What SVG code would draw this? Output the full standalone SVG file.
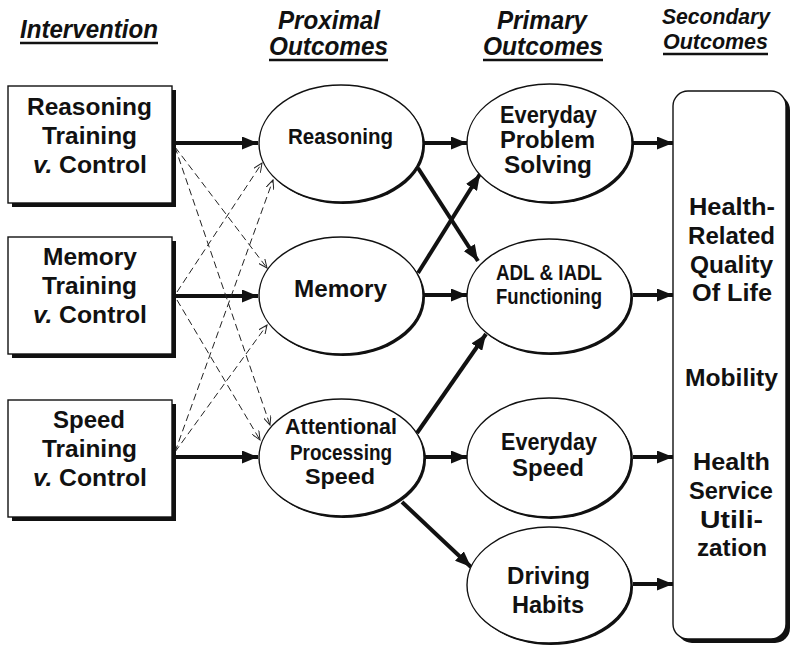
<svg xmlns="http://www.w3.org/2000/svg" width="800" height="656" viewBox="0 0 800 656">
<defs>
<style>
text{font-family:"Liberation Sans",Arial,sans-serif;font-weight:bold;fill:#111}
.hd{font-style:italic;font-size:25px}
.bx{font-size:23px}
.el{font-size:23px}
.it{font-style:italic}
.ul{stroke:#111;stroke-width:2.5}
.shadow{fill:#111}
.face{fill:#fff;stroke:#111;stroke-width:1.4}
.thick{stroke:#111;stroke-width:4;fill:none}
.dash{stroke:#222;stroke-width:1;fill:none;stroke-dasharray:7 4}
</style>
<marker id="ah" markerUnits="userSpaceOnUse" markerWidth="17" markerHeight="13" refX="16" refY="6.5" orient="auto">
<path d="M0,0 L16,6.5 L0,13 z" fill="#111"/>
</marker>
<marker id="av" markerUnits="userSpaceOnUse" markerWidth="10" markerHeight="8" refX="9" refY="4" orient="auto">
<path d="M0,0 L9,4 L0,8" fill="none" stroke="#222" stroke-width="1"/>
</marker>
</defs>
<rect width="800" height="656" fill="#fff"/>

<g id="headers">
<text class="hd" x="20" y="38" textLength="138" lengthAdjust="spacingAndGlyphs">Intervention</text>
<line class="ul" x1="20" y1="43" x2="158" y2="43"/>
<text class="hd" x="278" y="29" textLength="102" lengthAdjust="spacingAndGlyphs">Proximal</text>
<text class="hd" x="269" y="55" textLength="119" lengthAdjust="spacingAndGlyphs">Outcomes</text>
<line class="ul" x1="269" y1="60" x2="388" y2="60"/>
<text class="hd" x="497" y="29" textLength="90" lengthAdjust="spacingAndGlyphs">Primary</text>
<text class="hd" x="483" y="55" textLength="120" lengthAdjust="spacingAndGlyphs">Outcomes</text>
<line class="ul" x1="483" y1="60" x2="603" y2="60"/>
<text class="hd" x="662" y="24" textLength="108" lengthAdjust="spacingAndGlyphs" style="font-size:22px">Secondary</text>
<text class="hd" x="663" y="49" textLength="105" lengthAdjust="spacingAndGlyphs" style="font-size:22px">Outcomes</text>
<line class="ul" x1="663" y1="54" x2="768" y2="54"/>
</g>

<g id="connectors">
<line class="thick" x1="172" y1="143" x2="258" y2="143" marker-end="url(#ah)"/>
<line class="thick" x1="172" y1="296" x2="258" y2="296" marker-end="url(#ah)"/>
<line class="thick" x1="172" y1="457" x2="258" y2="457" marker-end="url(#ah)"/>
<line class="dash" x1="175" y1="147" x2="267" y2="268" marker-end="url(#av)"/>
<line class="dash" x1="175" y1="147" x2="270" y2="425" marker-end="url(#av)"/>
<line class="dash" x1="177" y1="292" x2="262" y2="163" marker-end="url(#av)"/>
<line class="dash" x1="177" y1="300" x2="260" y2="440" marker-end="url(#av)"/>
<line class="dash" x1="175" y1="452" x2="273" y2="180" marker-end="url(#av)"/>
<line class="dash" x1="175" y1="452" x2="267" y2="325" marker-end="url(#av)"/>
<line class="thick" x1="424" y1="143" x2="467" y2="143" marker-end="url(#ah)"/>
<line class="thick" x1="418" y1="168" x2="478" y2="261" marker-end="url(#ah)"/>
<line class="thick" x1="418" y1="273" x2="480" y2="174" marker-end="url(#ah)"/>
<line class="thick" x1="424" y1="295" x2="467" y2="295" marker-end="url(#ah)"/>
<line class="thick" x1="417" y1="433" x2="486" y2="334" marker-end="url(#ah)"/>
<line class="thick" x1="425" y1="457" x2="467" y2="457" marker-end="url(#ah)"/>
<line class="thick" x1="402" y1="502" x2="471" y2="567" marker-end="url(#ah)"/>
<line class="thick" x1="633" y1="143" x2="673" y2="143" marker-end="url(#ah)"/>
<line class="thick" x1="633" y1="295" x2="673" y2="295" marker-end="url(#ah)"/>
<line class="thick" x1="633" y1="457" x2="673" y2="457" marker-end="url(#ah)"/>
<line class="thick" x1="633" y1="584" x2="673" y2="584" marker-end="url(#ah)"/>
</g>

<g id="box-reasoning">
<rect class="shadow" x="12" y="90" width="164" height="117"/>
<rect class="face" x="8" y="86" width="164" height="117"/>
<text class="bx" x="27" y="115" textLength="125" lengthAdjust="spacingAndGlyphs">Reasoning</text>
<text class="bx" x="42" y="144" textLength="95" lengthAdjust="spacingAndGlyphs">Training</text>
<text class="bx" x="33" y="173" textLength="114" lengthAdjust="spacingAndGlyphs"><tspan class="it">v.</tspan> Control</text>
</g>
<g id="box-memory">
<rect class="shadow" x="12" y="241" width="164" height="117"/>
<rect class="face" x="8" y="237" width="164" height="117"/>
<text class="bx" x="43" y="265" textLength="94" lengthAdjust="spacingAndGlyphs">Memory</text>
<text class="bx" x="42" y="294" textLength="95" lengthAdjust="spacingAndGlyphs">Training</text>
<text class="bx" x="33" y="323" textLength="114" lengthAdjust="spacingAndGlyphs"><tspan class="it">v.</tspan> Control</text>
</g>
<g id="box-speed">
<rect class="shadow" x="12" y="404" width="164" height="117"/>
<rect class="face" x="8" y="400" width="164" height="117"/>
<text class="bx" x="53" y="428" textLength="72" lengthAdjust="spacingAndGlyphs">Speed</text>
<text class="bx" x="42" y="457" textLength="95" lengthAdjust="spacingAndGlyphs">Training</text>
<text class="bx" x="33" y="486" textLength="114" lengthAdjust="spacingAndGlyphs"><tspan class="it">v.</tspan> Control</text>
</g>

<g id="prox-reasoning">
<ellipse class="shadow" cx="343" cy="145.5" rx="82" ry="58.5"/>
<ellipse class="face" cx="341" cy="143.5" rx="82" ry="58.5"/>
<text class="el" x="288" y="144" textLength="105" lengthAdjust="spacingAndGlyphs" style="font-size:22px">Reasoning</text>
</g>
<g id="prox-memory">
<ellipse class="shadow" cx="343" cy="297.5" rx="82" ry="58.5"/>
<ellipse class="face" cx="341" cy="295.5" rx="82" ry="58.5"/>
<text class="el" x="294" y="297" textLength="93" lengthAdjust="spacingAndGlyphs" style="font-size:24px">Memory</text>
</g>
<g id="prox-speed">
<ellipse class="shadow" cx="343.5" cy="459.5" rx="82.5" ry="58.5"/>
<ellipse class="face" cx="341.5" cy="457.5" rx="82.5" ry="58.5"/>
<text class="el" x="285" y="434" textLength="112" lengthAdjust="spacingAndGlyphs" style="font-size:22px">Attentional</text>
<text class="el" x="290" y="460" textLength="102" lengthAdjust="spacingAndGlyphs" style="font-size:22px">Processing</text>
<text class="el" x="305" y="484" textLength="70" lengthAdjust="spacingAndGlyphs" style="font-size:22px">Speed</text>
</g>

<g id="prim-eps">
<ellipse class="shadow" cx="551.5" cy="145" rx="82.5" ry="59"/>
<ellipse class="face" cx="549.5" cy="143" rx="82.5" ry="59"/>
<text class="el" x="500" y="123" textLength="97" lengthAdjust="spacingAndGlyphs">Everyday</text>
<text class="el" x="500" y="148" textLength="95" lengthAdjust="spacingAndGlyphs">Problem</text>
<text class="el" x="504" y="173" textLength="88" lengthAdjust="spacingAndGlyphs">Solving</text>
</g>
<g id="prim-adl">
<ellipse class="shadow" cx="551" cy="298" rx="82" ry="57"/>
<ellipse class="face" cx="549" cy="296" rx="82" ry="57"/>
<text class="el" x="496" y="280" textLength="106" lengthAdjust="spacingAndGlyphs" style="font-size:22px">ADL &amp; IADL</text>
<text class="el" x="496" y="304" textLength="106" lengthAdjust="spacingAndGlyphs" style="font-size:22px">Functioning</text>
</g>
<g id="prim-es">
<ellipse class="shadow" cx="551" cy="459.5" rx="82" ry="59.5"/>
<ellipse class="face" cx="549" cy="457.5" rx="82" ry="59.5"/>
<text class="el" x="501" y="450" textLength="96" lengthAdjust="spacingAndGlyphs">Everyday</text>
<text class="el" x="512" y="476" textLength="72" lengthAdjust="spacingAndGlyphs">Speed</text>
</g>
<g id="prim-dh">
<ellipse class="shadow" cx="551" cy="587" rx="82" ry="58"/>
<ellipse class="face" cx="549" cy="585" rx="82" ry="58"/>
<text class="el" x="507" y="584" textLength="83" lengthAdjust="spacingAndGlyphs">Driving</text>
<text class="el" x="512" y="613" textLength="72" lengthAdjust="spacingAndGlyphs">Habits</text>
</g>

<g id="secondary">
<rect class="shadow" x="677" y="95" width="113" height="548" rx="15"/>
<rect class="face" x="673" y="91" width="113" height="548" rx="15"/>
<text class="bx" x="689" y="215" textLength="86" lengthAdjust="spacingAndGlyphs">Health-</text>
<text class="bx" x="688" y="244" textLength="87" lengthAdjust="spacingAndGlyphs">Related</text>
<text class="bx" x="690" y="273" textLength="83" lengthAdjust="spacingAndGlyphs">Quality</text>
<text class="bx" x="692" y="301" textLength="80" lengthAdjust="spacingAndGlyphs">Of Life</text>
<text class="bx" x="685" y="386" textLength="93" lengthAdjust="spacingAndGlyphs">Mobility</text>
<text class="bx" x="693" y="470" textLength="77" lengthAdjust="spacingAndGlyphs">Health</text>
<text class="bx" x="689" y="499" textLength="84" lengthAdjust="spacingAndGlyphs">Service</text>
<text class="bx" x="700" y="528" textLength="63" lengthAdjust="spacingAndGlyphs">Utili-</text>
<text class="bx" x="697" y="556" textLength="70" lengthAdjust="spacingAndGlyphs">zation</text>
</g>
</svg>
